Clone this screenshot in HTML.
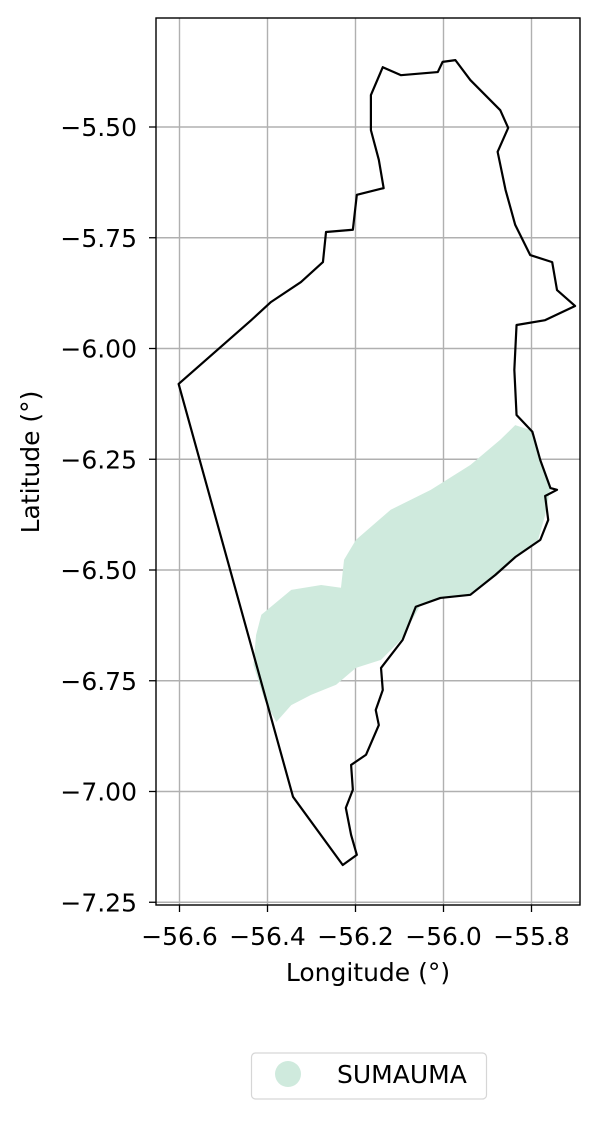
<!DOCTYPE html>
<html><head><meta charset="utf-8"><style>
body{margin:0;background:#fff;}
svg text{font-family:"DejaVu Sans","Liberation Sans",sans-serif;fill:#000;}
</style></head><body>
<svg width="599" height="1119" xmlns="http://www.w3.org/2000/svg">
<g id="grid"></g>
<polygon id="zone" fill="#cfeadd" stroke="none"></polygon>
<polygon id="bound" fill="none" stroke="#000" stroke-width="2.2" stroke-linejoin="round"></polygon>
<rect x="156" y="18" width="424" height="887" fill="none" stroke="#000" stroke-width="1.4"/>
<g id="ticks"></g>
<text x="368" y="981" font-size="25" text-anchor="middle">Longitude (°)</text>
<text transform="translate(39,462) rotate(-90)" font-size="25" text-anchor="middle">Latitude (°)</text>
<g>
<rect x="251.5" y="1053" width="235" height="46" rx="4" fill="#fff" stroke="#d6d6d6" stroke-width="1.2"/>
<circle cx="288" cy="1074" r="13" fill="#cfeadd"/>
<text x="337" y="1083" font-size="25">SUMAUMA</text>
</g>
</svg>
<script>
const xTicks=[-56.6,-56.4,-56.2,-56.0,-55.8];
const xTickLabels=["−56.6","−56.4","−56.2","−56.0","−55.8"];
const yTicks=[-5.5,-5.75,-6.0,-6.25,-6.5,-6.75,-7.0,-7.25];
const yTickLabels=["−5.50","−5.75","−6.00","−6.25","−6.50","−6.75","−7.00","−7.25"];
const boundLon=[-56.138,-56.097,-56.013,-56.002,-55.973,-55.939,-55.871,-55.853,-55.877,-55.859,-55.837,-55.803,-55.753,-55.742,-55.701,-55.769,-55.834,-55.839,-55.834,-55.798,-55.780,-55.757,-55.742,-55.769,-55.762,-55.780,-55.837,-55.882,-55.939,-56.007,-56.063,-56.093,-56.142,-56.138,-56.154,-56.147,-56.176,-56.210,-56.206,-56.222,-56.210,-56.197,-56.229,-56.342,-56.602,-56.437,-56.392,-56.324,-56.274,-56.267,-56.206,-56.197,-56.136,-56.147,-56.165,-56.165];
const boundLat=[-5.365,-5.383,-5.376,-5.353,-5.349,-5.394,-5.462,-5.502,-5.556,-5.642,-5.721,-5.789,-5.805,-5.868,-5.904,-5.936,-5.947,-6.048,-6.150,-6.188,-6.252,-6.315,-6.319,-6.333,-6.387,-6.432,-6.471,-6.511,-6.556,-6.563,-6.583,-6.658,-6.721,-6.771,-6.816,-6.850,-6.917,-6.940,-6.996,-7.037,-7.098,-7.143,-7.166,-7.012,-6.080,-5.936,-5.895,-5.850,-5.805,-5.737,-5.732,-5.653,-5.638,-5.574,-5.507,-5.428];
const zoneLon=[-56.414,-56.346,-56.278,-56.233,-56.226,-56.199,-56.120,-56.029,-55.939,-55.871,-55.837,-55.803,-55.780,-55.757,-55.769,-55.785,-55.837,-55.882,-55.939,-56.007,-56.052,-56.097,-56.142,-56.199,-56.244,-56.301,-56.346,-56.380,-56.407,-56.432,-56.426];
const zoneLat=[-6.601,-6.545,-6.534,-6.540,-6.477,-6.432,-6.364,-6.319,-6.263,-6.206,-6.173,-6.184,-6.252,-6.315,-6.376,-6.432,-6.471,-6.511,-6.556,-6.563,-6.579,-6.658,-6.703,-6.721,-6.759,-6.782,-6.805,-6.843,-6.793,-6.714,-6.647];
const X=v=>179.5+(v+56.6)*440;
const Y=v=>127+(-5.5-v)*443;
const NS='http://www.w3.org/2000/svg';
const grid=document.getElementById('grid'),ticks=document.getElementById('ticks');
function mk(tag,attrs,parent){const e=document.createElementNS(NS,tag);for(const k in attrs)e.setAttribute(k,attrs[k]);parent.appendChild(e);return e;}
xTicks.forEach((v,i)=>{
 const g=mk('line',{x1:X(v),x2:X(v),y1:18,y2:905,stroke:'#b0b0b0','stroke-width':1.4},grid);
 
 
 mk('line',{x1:X(v),x2:X(v),y1:905,y2:912,stroke:'#000','stroke-width':1.3},ticks);
 const t=mk('text',{x:X(v),y:945,'font-size':25,'text-anchor':'middle'},ticks);t.textContent=xTickLabels[i];
 
 
});
yTicks.forEach((v,i)=>{
 const g=mk('line',{x1:156,x2:580,y1:Y(v),y2:Y(v),stroke:'#b0b0b0','stroke-width':1.4},grid);
 
 
 mk('line',{x1:149,x2:156,y1:Y(v),y2:Y(v),stroke:'#000','stroke-width':1.3},ticks);
 const t=mk('text',{x:137,y:Y(v)+9,'font-size':25,'text-anchor':'end'},ticks);t.textContent=yTickLabels[i];
 
 
});
document.getElementById('bound').setAttribute('points',boundLon.map((v,i)=>X(v)+','+Y(boundLat[i])).join(' '));
document.getElementById('zone').setAttribute('points',zoneLon.map((v,i)=>X(v)+','+Y(zoneLat[i])).join(' '));
</script>
</body></html>
